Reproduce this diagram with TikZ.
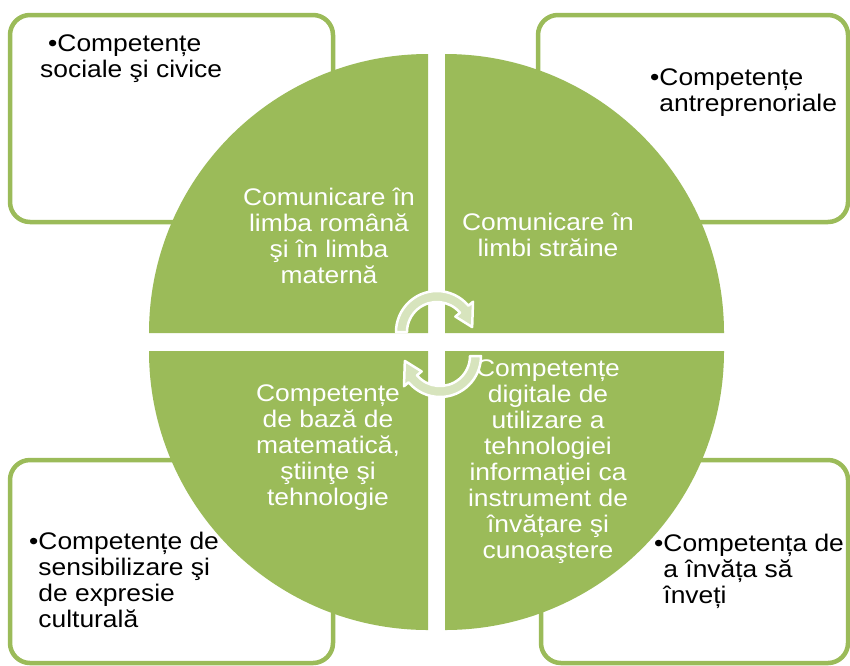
\documentclass[tikz,border=0pt]{standalone}
\usepackage{fontspec}
\setmainfont{Liberation Sans}[FakeStretch=1.1]
\definecolor{grn}{HTML}{9BBB59}
\definecolor{arrfill}{HTML}{D7E4BD}
\begin{document}
\begin{tikzpicture}[x=1pt,y=1pt,
  box/.style={draw=grn, line width=4.5pt, rounded corners=20pt, fill=white},
  quad/.style={fill=grn, draw=none},
  intext/.style={text=white, align=center, inner sep=0pt, anchor=north, font=\fontsize{24}{26}\selectfont},
  outtext/.style={text=black, align=left, inner sep=0pt, anchor=north west, font=\fontsize{24}{26}\selectfont},
  cyc/.style={fill=arrfill, draw=white, line width=2.5pt, line join=round}]
\useasboundingbox (0,0) rectangle (850,-665);
\clip (0,0) rectangle (850,-665);
\fill[white] (0,0) rectangle (850,-665);
% corner boxes
\draw[box] (10,-15) rectangle (333,-222);
\draw[box] (538,-15) rectangle (848,-222);
\draw[box] (10,-460) rectangle (333,-663);
\draw[box] (541,-460) rectangle (848,-663);
% quadrants
\fill[quad] (428,-333) -- (149,-333) arc[start angle=180, end angle=90, radius=279] -- cycle;
\fill[quad] (445,-333) -- (445,-54) arc[start angle=90, end angle=0, radius=279] -- cycle;
\fill[quad] (428,-351) -- (149,-351) arc[start angle=180, end angle=270, radius=279] -- cycle;
\fill[quad] (445,-351) -- (724,-351) arc[start angle=0, end angle=-90, radius=279] -- cycle;
% quadrant texts
\node[intext] (q1) at (329,-187.5) {Comunicare în\\limba română\\şi în limba\\maternă};
\node[intext] (q2) at (548,-212.5) {Comunicare în\\limbi străine};
\node[intext] (q3) at (328,-384.5) {Competențe\\de bază de\\matematică,\\ştiinţe şi\\tehnologie};
\node[intext] (q4) at (548,-359.5) {Competențe\\digitale de\\utilizare a\\tehnologiei\\informației ca\\instrument de\\învățare şi\\cunoaştere};
% box texts
\node[outtext] (t1) at (40,-34.5) {\hspace*{8pt}•Competențe\\sociale şi civice};
\node[outtext] (t2) at (650,-68.5) {•Competențe\\\phantom{•}antreprenoriale};
\node[outtext] (t3) at (29,-531.5) {•Competențe de\\\phantom{•}sensibilizare şi\\\phantom{•}de expresie\\\phantom{•}culturală};
\node[outtext] (t4) at (654,-533.5) {•Competența de\\\phantom{•}a învăța să\\\phantom{•}înveți};
% circular arrows
\begin{scope}[shift={(437,-332)}]
\draw[cyc] (180:41) arc[start angle=180, end angle=40, radius=41] -- (40:47) -- (8:35.5) -- (40:24) -- (40:30) arc[start angle=40, end angle=180, radius=30] -- cycle;
\end{scope}
\begin{scope}[shift={(440,-356)}]
\draw[cyc] (0:41) arc[start angle=0, end angle=-140, radius=41] -- (-140:47) -- (-172:35.5) -- (-140:24) -- (-140:30) arc[start angle=-140, end angle=0, radius=30] -- cycle;
\end{scope}
\end{tikzpicture}
\end{document}
